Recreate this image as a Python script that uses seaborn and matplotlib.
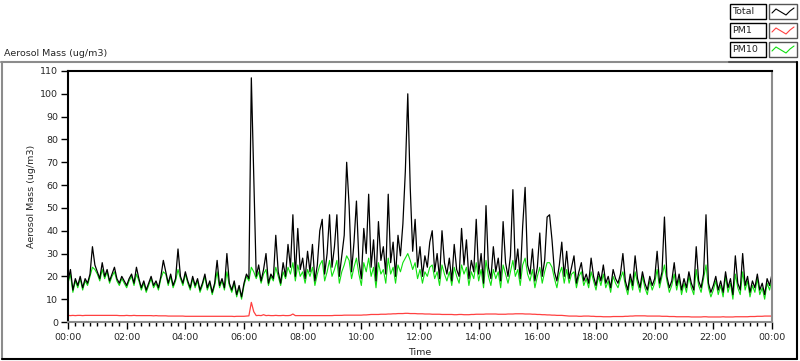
import numpy as np
import pandas as pd
import seaborn as sns
import matplotlib.pyplot as plt
from matplotlib.lines import Line2D
from matplotlib.patches import Rectangle
from matplotlib.ticker import MultipleLocator, FuncFormatter

## Data: 5-minute readings over one day (00:00 -> 24:00), one row per hour
total = [
    18, 23, 14, 19, 16, 20, 15, 19, 17, 21, 33, 25,
    22, 19, 26, 20, 23, 18, 21, 24, 19, 17, 20, 18,
    16, 19, 21, 17, 24, 19, 15, 18, 14, 17, 20, 16,
    18, 15, 20, 27, 22, 17, 21, 16, 19, 32, 20, 17,
    22, 18, 15, 20, 16, 19, 14, 17, 21, 15, 18, 13,
    17, 27, 16, 19, 15, 30, 17, 14, 18, 12, 16, 11,
    17, 21, 19, 107, 64, 20, 25, 18, 23, 30, 17, 21,
    19, 38, 22, 17, 26, 20, 34, 24, 47, 20, 41, 23,
    28, 19, 31, 22, 34, 18, 25, 40, 45, 21, 30, 47,
    24, 33, 47, 20, 29, 38, 70, 51, 22, 35, 53, 27,
    19, 41, 30, 56, 24, 36, 18, 44, 27, 33, 21, 56,
    26, 35, 20, 38, 29, 43, 66, 100, 59, 31, 45, 24,
    33, 20, 29, 24, 35, 40, 22, 30, 19, 40, 26, 21,
    28, 18, 34, 23, 20, 41, 25, 36, 19, 27, 22, 45,
    21, 30, 17, 51, 24, 19, 33, 22, 28, 18, 44, 26,
    20, 29, 58, 23, 32, 19, 42, 59, 25, 21, 32, 18,
    24, 39, 20, 27, 46, 47, 36, 22, 18, 25, 35, 20,
    31, 19, 24, 29, 17, 22, 26, 18, 21, 17, 28, 20,
    16, 22, 18, 25, 17, 20, 15, 23, 19, 17, 21, 30,
    18, 14, 21, 16, 29, 19, 15, 22, 17, 14, 20, 16,
    19, 31, 17, 22, 46, 20, 15, 18, 26, 16, 21, 14,
    19, 15, 22, 17, 14, 33, 18, 15, 21, 47, 17, 13,
    16, 20, 14, 18, 13, 22, 15, 19, 12, 29, 17, 14,
    30, 16, 20, 13, 18, 15, 21, 14, 17, 12, 19, 16,
    21,
]

pm10 = [
    17, 21, 13, 18, 15, 19, 14, 18, 16, 20, 24, 23,
    21, 18, 23, 19, 22, 17, 20, 22, 18, 16, 19, 17,
    15, 18, 20, 16, 21, 18, 14, 17, 13, 16, 19, 15,
    17, 14, 19, 22, 21, 16, 20, 15, 18, 23, 19, 16,
    21, 17, 14, 19, 15, 18, 13, 16, 20, 14, 17, 12,
    16, 22, 15, 18, 14, 22, 16, 13, 17, 11, 15, 10,
    16, 20, 18, 24, 22, 19, 22, 17, 21, 23, 16, 20,
    18, 24, 20, 16, 22, 19, 24, 21, 26, 18, 25, 20,
    22, 17, 23, 20, 24, 16, 21, 25, 27, 18, 22, 27,
    20, 23, 27, 17, 22, 25, 29, 27, 19, 24, 28, 21,
    16, 26, 22, 28, 20, 24, 15, 26, 21, 23, 17, 28,
    21, 24, 17, 25, 22, 26, 28, 30, 27, 23, 26, 19,
    23, 17, 22, 20, 24, 25, 19, 22, 16, 25, 21, 18,
    22, 16, 24, 20, 17, 25, 21, 24, 16, 22, 19, 26,
    18, 23, 15, 27, 20, 16, 23, 19, 22, 15, 25, 21,
    17, 22, 27, 20, 23, 16, 25, 28, 21, 18, 23, 15,
    20, 24, 17, 22, 26, 26, 24, 19, 15, 21, 24, 17,
    23, 17, 21, 22, 15, 20, 22, 16, 19, 15, 22, 18,
    14, 20, 16, 21, 15, 18, 13, 20, 17, 15, 19, 22,
    16, 12, 19, 14, 22, 17, 13, 20, 15, 12, 18, 14,
    17, 23, 15, 20, 25, 18, 13, 16, 21, 14, 19, 12,
    17, 13, 20, 15, 12, 23, 16, 13, 19, 25, 15, 11,
    14, 18, 12, 16, 11, 20, 13, 17, 10, 21, 15, 12,
    22, 14, 18, 11, 16, 13, 19, 12, 15, 10, 17, 14,
    19,
]

pm1 = [
    2.9, 2.8, 2.9, 2.8, 2.9, 2.9, 2.8, 2.9, 2.9, 2.9, 2.9, 2.9,
    2.9, 2.9, 2.9, 2.9, 2.9, 2.9, 2.9, 2.9, 2.9, 2.8, 2.8, 2.8,
    2.9, 2.8, 2.8, 2.9, 2.8, 2.8, 2.8, 2.8, 2.8, 2.8, 2.8, 2.7,
    2.8, 2.7, 2.7, 2.7, 2.7, 2.6, 2.6, 2.6, 2.6, 2.6, 2.6, 2.6,
    2.5, 2.5, 2.5, 2.5, 2.5, 2.5, 2.5, 2.5, 2.5, 2.5, 2.5, 2.5,
    2.5, 2.5, 2.5, 2.5, 2.5, 2.5, 2.5, 2.5, 2.4, 2.5, 2.5, 2.5,
    2.5, 2.6, 2.7, 8.6, 4.5, 2.8, 2.9, 2.8, 3.2, 2.8, 2.9, 2.8,
    2.8, 2.9, 2.8, 2.8, 2.9, 2.8, 2.8, 2.9, 3.5, 2.8, 2.8, 2.8,
    2.8, 2.8, 2.8, 2.8, 2.8, 2.8, 2.8, 2.8, 2.8, 2.8, 2.8, 2.8,
    2.8, 2.9, 2.9, 2.9, 2.9, 3.0, 3.0, 3.0, 3.0, 3.0, 3.0, 3.0,
    3.0, 3.1, 3.1, 3.2, 3.3, 3.3, 3.3, 3.3, 3.4, 3.4, 3.4, 3.5,
    3.5, 3.6, 3.6, 3.7, 3.7, 3.7, 3.8, 3.8, 3.7, 3.7, 3.7, 3.6,
    3.6, 3.6, 3.5, 3.5, 3.5, 3.4, 3.4, 3.4, 3.4, 3.3, 3.3, 3.3,
    3.3, 3.3, 3.2, 3.2, 3.3, 3.3, 3.2, 3.2, 3.2, 3.3, 3.3, 3.4,
    3.4, 3.4, 3.4, 3.5, 3.5, 3.5, 3.5, 3.5, 3.4, 3.4, 3.4, 3.4,
    3.5, 3.5, 3.5, 3.6, 3.6, 3.6, 3.6, 3.5, 3.5, 3.5, 3.4, 3.4,
    3.3, 3.3, 3.2, 3.2, 3.1, 3.1, 3.0, 3.0, 2.9, 2.9, 2.9, 2.8,
    2.7, 2.6, 2.6, 2.6, 2.6, 2.5, 2.5, 2.6, 2.6, 2.6, 2.5, 2.5,
    2.4, 2.4, 2.4, 2.3, 2.3, 2.3, 2.3, 2.4, 2.4, 2.4, 2.4, 2.4,
    2.5, 2.5, 2.6, 2.6, 2.7, 2.7, 2.7, 2.7, 2.7, 2.6, 2.6, 2.6,
    2.6, 2.6, 2.6, 2.5, 2.5, 2.5, 2.4, 2.4, 2.4, 2.3, 2.3, 2.3,
    2.3, 2.3, 2.3, 2.2, 2.2, 2.2, 2.2, 2.2, 2.3, 2.3, 2.2, 2.2,
    2.2, 2.2, 2.2, 2.2, 2.3, 2.2, 2.2, 2.2, 2.2, 2.3, 2.3, 2.3,
    2.3, 2.3, 2.3, 2.4, 2.4, 2.4, 2.5, 2.5, 2.5, 2.6, 2.6, 2.6,
    2.6,
]

series_names = ["Total", "PM1", "PM10"]
series_colors = {"Total": "#000000", "PM1": "#ff4040", "PM10": "#10e010"}

hours = np.arange(len(total)) * 5 / 60.0  # time axis in hours

df = pd.concat([
    pd.DataFrame({"hour": hours, "value": pm10, "series": "PM10"}),
    pd.DataFrame({"hour": hours, "value": pm1, "series": "PM1"}),
    pd.DataFrame({"hour": hours, "value": total, "series": "Total"}),
])

sns.set_style("white")
plt.rcParams["font.family"] = ["DejaVu Sans"]
plt.rcParams["font.size"] = 6.8

W, H = 800, 361
fig = plt.figure(figsize=(W / 100, H / 100), dpi=100)


def fx(x):
    return x / W


def fy(y):
    return 1 - y / H


ax = fig.add_axes([fx(68), fy(322), fx(772) - fx(68), fy(71) - fy(322)])

# green first, black last so Total sits on top
widths = {"PM10": 0.8, "PM1": 0.9, "Total": 0.9}
for name in ["PM10", "PM1", "Total"]:
    sns.lineplot(data=df[df.series == name], x="hour", y="value",
                 color=series_colors[name], lw=widths[name], ax=ax, legend=False)

ax.set_xlim(0, 24)
ax.set_ylim(0, 110)
ax.yaxis.set_major_locator(MultipleLocator(10))
ax.xaxis.set_major_locator(MultipleLocator(2))
ax.xaxis.set_minor_locator(MultipleLocator(0.25))
ax.xaxis.set_major_formatter(FuncFormatter(lambda v, p: "%02d:00" % (int(round(v)) % 24)))
ax.tick_params(axis="y", which="major", length=5, width=1, color="black",
               direction="out", left=True, pad=2, labelsize=6.8)
ax.tick_params(axis="x", which="major", length=5, width=1, color="black",
               direction="out", bottom=True, pad=3, labelsize=6.8)
ax.tick_params(axis="x", which="minor", length=3, width=1, color="black",
               direction="out", bottom=True)

ax.set_xlabel("Time", fontsize=6.8, labelpad=4)
ax.set_ylabel("Aerosol Mass (ug/m3)", fontsize=6.8, labelpad=3)

for s in ["left", "top"]:
    ax.spines[s].set_color("black")
    ax.spines[s].set_linewidth(1.5)
for s in ["right", "bottom"]:
    ax.spines[s].set_color("#8c8c8c")
    ax.spines[s].set_linewidth(1.5)
ax.grid(False)

# chart title at top left
fig.text(fx(4), fy(53), "Aerosol Mass (ug/m3)", fontsize=6.8, va="center", ha="left")

# outer panel frame
fig.add_artist(Line2D([fx(1), fx(729)], [fy(61.5), fy(61.5)], color="#8c8c8c", lw=1.5))
fig.add_artist(Line2D([fx(729), fx(797)], [fy(61.5), fy(61.5)], color="#555555", lw=1.5))
fig.add_artist(Line2D([fx(1.5), fx(1.5)], [fy(61.5), fy(359)], color="#8c8c8c", lw=1.5))
fig.add_artist(Line2D([fx(797), fx(797)], [fy(61.5), fy(359)], color="black", lw=1.5))
fig.add_artist(Line2D([fx(1.5), fx(797)], [fy(359), fy(359)], color="black", lw=1.5))

# LabVIEW style plot legend at top right
row_tops = [4, 23, 42]
for name, top in zip(series_names, row_tops):
    h = 15
    fig.add_artist(Rectangle((fx(730), fy(top + h)), fx(766) - fx(730), fy(top) - fy(top + h),
                             facecolor="white", edgecolor="black", lw=1.0))
    fig.text(fx(732), fy(top + h / 2), name, fontsize=6.8, va="center", ha="left")
    fig.add_artist(Rectangle((fx(769), fy(top + h)), fx(797) - fx(769), fy(top) - fy(top + h),
                             facecolor="white", edgecolor="#555555", lw=1.0))
    zx = [772, 776, 781, 786, 790, 794]
    zy = [top + 9, top + 5, top + 8, top + 11, top + 7, top + 4]
    fig.add_artist(Line2D([fx(v) for v in zx], [fy(v) for v in zy],
                          color=series_colors[name], lw=0.8))

fig.savefig("out.png", dpi=100)
